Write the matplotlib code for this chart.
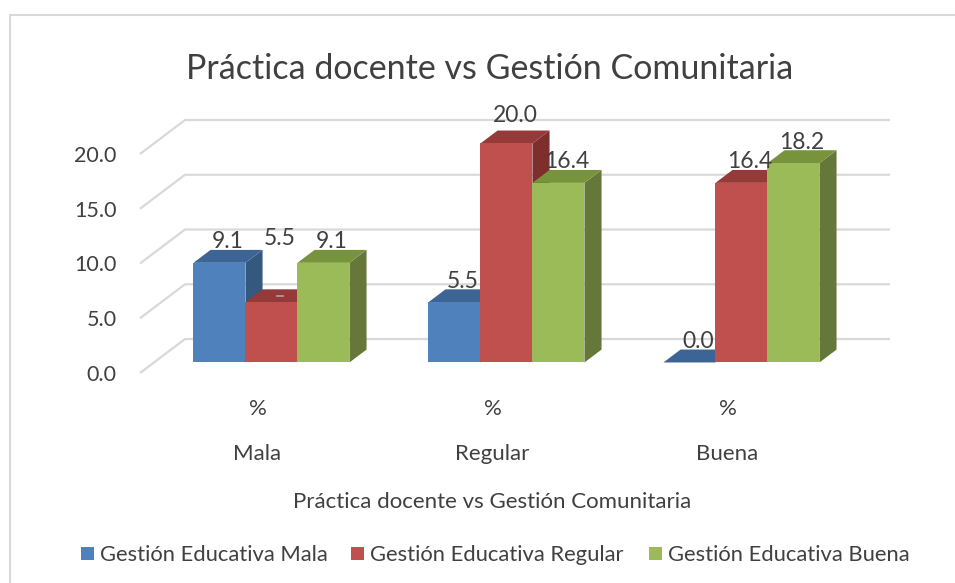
import matplotlib.pyplot as plt
from matplotlib.patches import Polygon, Rectangle
import numpy as np

categories = ["Mala", "Regular", "Buena"]
sub_label = "%"
series_names = ["Gestión Educativa Mala", "Gestión Educativa Regular", "Gestión Educativa Buena"]
values = [
    [9.1, 5.5, 0.0],     # Gestión Educativa Mala
    [5.5, 20.0, 16.4],   # Gestión Educativa Regular
    [9.1, 16.4, 18.2],   # Gestión Educativa Buena
]
yticks = [0, 5, 10, 15, 20]
title = "Práctica docente vs Gestión Comunitaria"
xlabel = "Práctica docente vs Gestión Comunitaria"

front_col = ["#4F81BD", "#C0504D", "#9BBB59"]
top_col = ["#3C6494", "#953A38", "#77933C"]
side_col = ["#34587F", "#7E2F2D", "#65783A"]

plt.rcParams['font.family'] = ['Lato', 'DejaVu Sans']
txt = "#404040"

W, H = 955, 583
fig = plt.figure(figsize=(W / 100, H / 100), dpi=100)

# chart border
fig.patches.append(Rectangle((10 / W, -0.1), 1.2, (H - 15) / H + 0.1, transform=fig.transFigure,
                             fill=False, edgecolor="#d9d9d9", lw=1.5))

# oblique projection: depth shifts x and y
DX = 45 / 235.0       # category units
DY = 34 / 10.96       # value units
x0, x1 = -0.5, 2.5
ymax = 20 + DY

left, right = 140, 890
bottom, top = 373, 120
ax = fig.add_axes([left / W, (H - bottom) / H, (right - left) / W, (bottom - top) / H])
ax.set_xlim(x0, x1 + DX)
ax.set_ylim(0, ymax)
ax.axis("off")

def P(x, v, d):
    return (x + d * DX, v + d * DY)

# gridlines: diagonal on floor/left side + back wall line
for t in yticks:
    pts = [P(x0, t, 0), P(x0, t, 1), P(x1, t, 1)]
    ax.plot([p[0] for p in pts], [p[1] for p in pts], color="#d9d9d9", lw=1.6,
            clip_on=False, zorder=1, solid_capstyle="butt")
    ax.text(-0.6, t, "%.1f" % t, ha="right", va="center_baseline", fontsize=15.5, color=txt)

# bars
bw = 52 / 235.0
d0, d1 = 0.31, 0.69
n = len(series_names)
for s in range(n):
    for i, v in enumerate(values[s]):
        xl = i + (s - n / 2) * bw
        xr = xl + bw
        z = 3 + s
        front = [P(xl, 0, d0), P(xr, 0, d0), P(xr, v, d0), P(xl, v, d0)]
        side = [P(xr, 0, d0), P(xr, 0, d1), P(xr, v, d1), P(xr, v, d0)]
        topf = [P(xl, v, d0), P(xr, v, d0), P(xr, v, d1), P(xl, v, d1)]
        ax.add_patch(Polygon(side, closed=True, fc=side_col[s], ec="none", zorder=z, clip_on=False))
        ax.add_patch(Polygon(topf, closed=True, fc=top_col[s], ec="none", zorder=z, clip_on=False))
        ax.add_patch(Polygon(front, closed=True, fc=front_col[s], ec="none", zorder=z, clip_on=False))
        lx, ly = P((xl + xr) / 2, v, 0.5)
        off = 12
        if s == 1 and i == 1:
            off = 17
        if s == 1 and i == 0:
            # label moved up by Excel, with a leader stub
            off = 43
            ax.plot([lx - 0.012, lx + 0.012], [ly, ly], color="#a6a6a6", lw=1.2, zorder=10)
        ax.annotate("%.1f" % v, (lx, ly), xytext=(0, off), textcoords="offset points",
                    ha="center", va="center_baseline", fontsize=16.5, color=txt, zorder=10,
                    annotation_clip=False)

# category labels
for i, c in enumerate(categories):
    xc = left + (i + 0.5) * 235
    fig.text(xc / W, 1 - 407 / H, sub_label, ha="center", va="center_baseline", fontsize=16, color=txt)
    fig.text(xc / W, 1 - 452 / H, c, ha="center", va="center_baseline", fontsize=16, color=txt)

fig.text(492 / W, 1 - 500 / H, xlabel, ha="center", va="center_baseline", fontsize=16, color=txt)
fig.text(490 / W, 1 - 66 / H, title, ha="center", va="center_baseline", fontsize=24.5, color=txt)

# legend
leg_x = [81, 351, 649]
for s in range(n):
    fig.patches.append(Rectangle((leg_x[s] / W, 1 - 560 / H), 13 / W, 13 / H,
                                 transform=fig.transFigure, fc=front_col[s], ec="none"))
    fig.text((leg_x[s] + 19) / W, 1 - 553 / H, series_names[s], ha="left", va="center_baseline",
             fontsize=15.8, color=txt)

fig.savefig("out.png", dpi=100)
